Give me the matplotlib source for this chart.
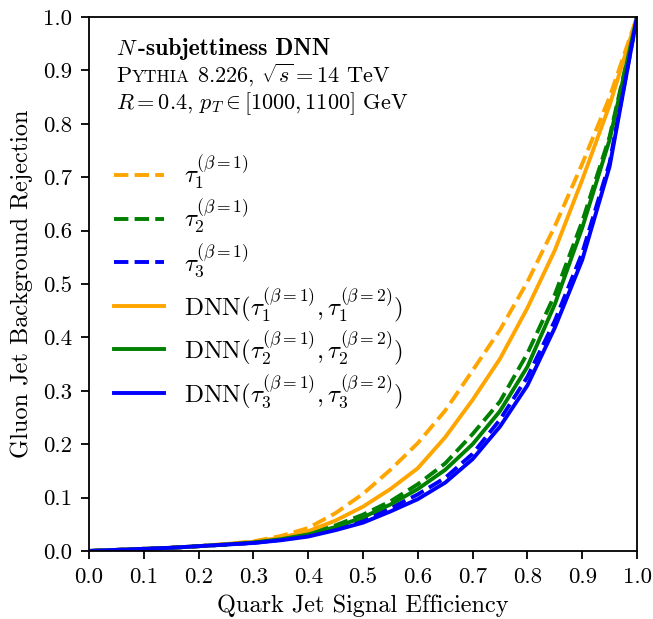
import matplotlib
matplotlib.use("Agg")
import matplotlib.pyplot as plt
from matplotlib.offsetbox import TextArea, HPacker, VPacker, AnchoredOffsetbox

plt.rcParams['font.family'] = 'serif'
plt.rcParams['font.serif'] = ['cmr10', 'DejaVu Serif']
plt.rcParams['mathtext.fontset'] = 'cm'
plt.rcParams['axes.formatter.use_mathtext'] = True
plt.rcParams['axes.unicode_minus'] = False

# signal efficiency grid
eff = [0, 0.05, 0.1, 0.15, 0.2, 0.25, 0.3, 0.35, 0.4, 0.45, 0.5, 0.55,
       0.6, 0.65, 0.7, 0.75, 0.8, 0.85, 0.9, 0.95, 1.0]

# background rejection for each curve
tau1 = [0, 0.002, 0.004, 0.006, 0.009, 0.013, 0.018, 0.028, 0.043, 0.071, 0.107, 0.152,
        0.202, 0.263, 0.338, 0.414, 0.504, 0.608, 0.725, 0.850, 1.0]
tau2 = [0, 0.002, 0.004, 0.006, 0.009, 0.012, 0.016, 0.023, 0.032, 0.048, 0.068, 0.093,
        0.125, 0.164, 0.219, 0.280, 0.370, 0.480, 0.617, 0.776, 1.0]
tau3 = [0, 0.002, 0.004, 0.006, 0.009, 0.012, 0.015, 0.021, 0.029, 0.042, 0.058, 0.080,
        0.106, 0.137, 0.182, 0.246, 0.326, 0.431, 0.558, 0.727, 1.0]
dnn1 = [0, 0.002, 0.004, 0.006, 0.009, 0.013, 0.017, 0.025, 0.037, 0.057, 0.083, 0.116,
        0.155, 0.213, 0.283, 0.360, 0.455, 0.563, 0.695, 0.835, 1.0]
dnn2 = [0, 0.002, 0.004, 0.006, 0.009, 0.012, 0.016, 0.022, 0.031, 0.045, 0.063, 0.087,
        0.116, 0.152, 0.200, 0.262, 0.345, 0.462, 0.605, 0.770, 1.0]
dnn3 = [0, 0.002, 0.004, 0.006, 0.009, 0.012, 0.015, 0.020, 0.027, 0.039, 0.053, 0.074,
        0.097, 0.128, 0.172, 0.233, 0.310, 0.418, 0.545, 0.720, 1.0]

ticks = [0.0, 0.1, 0.2, 0.3, 0.4, 0.5, 0.6, 0.7, 0.8, 0.9, 1.0]
tick_labels = ['0.0', '0.1', '0.2', '0.3', '0.4', '0.5', '0.6', '0.7', '0.8', '0.9', '1.0']

fig = plt.figure(figsize=(6.53, 6.19), dpi=100)
ax = fig.add_axes([0.1363, 0.1099, 0.8392, 0.8626])

lw = 2.8
ax.plot(eff, tau1, color='orange', ls='--', lw=lw, label=r'$\tau_1^{(\beta=1)}$')
ax.plot(eff, tau2, color='green', ls='--', lw=lw, label=r'$\tau_2^{(\beta=1)}$')
ax.plot(eff, tau3, color='blue', ls='--', lw=lw, label=r'$\tau_3^{(\beta=1)}$')
ax.plot(eff, dnn1, color='orange', ls='-', lw=lw,
        label=r'$\mathrm{DNN}(\tau_1^{(\beta=1)},\tau_1^{(\beta=2)})$')
ax.plot(eff, dnn2, color='green', ls='-', lw=lw,
        label=r'$\mathrm{DNN}(\tau_2^{(\beta=1)},\tau_2^{(\beta=2)})$')
ax.plot(eff, dnn3, color='blue', ls='-', lw=lw,
        label=r'$\mathrm{DNN}(\tau_3^{(\beta=1)},\tau_3^{(\beta=2)})$')

ax.set_xlim(0, 1)
ax.set_ylim(0, 1)
ax.set_xticks(ticks)
ax.set_xticklabels(tick_labels)
ax.set_yticks(ticks)
ax.set_yticklabels(tick_labels)
ax.tick_params(direction='out', length=6, width=1.3, labelsize=16.5, pad=6)
for s in ax.spines.values():
    s.set_linewidth(1.3)

ax.set_xlabel('Quark Jet Signal Efficiency', fontsize=17.5, labelpad=5)
ax.set_ylabel('Gluon Jet Background Rejection', fontsize=17.5, labelpad=7)

leg = ax.legend(loc='upper left', bbox_to_anchor=(0.0, 0.79), frameon=False,
                fontsize=18, handlelength=2.0, labelspacing=0.23, borderaxespad=0.6)

# annotation block in the upper left corner
fs = 16
row1 = HPacker(children=[TextArea(r'$N$', textprops=dict(fontsize=fs)),
                         TextArea('-subjettiness DNN',
                                  textprops=dict(fontsize=fs + 1, family='cmb10'))],
               align='baseline', pad=0, sep=0)
row2 = HPacker(children=[TextArea('P', textprops=dict(fontsize=fs)),
                         TextArea('YTHIA', textprops=dict(fontsize=fs * 0.78)),
                         TextArea(r' 8.226, $\sqrt{s} = 14$ TeV', textprops=dict(fontsize=fs))],
               align='baseline', pad=0, sep=0)
row3 = TextArea(r'$R = 0.4$, $p_T \in [1000, 1100]$ GeV', textprops=dict(fontsize=fs))
block = VPacker(children=[row1, row2, row3], align='left', pad=0, sep=1)
box = AnchoredOffsetbox(loc='upper left', child=block, frameon=False,
                        bbox_to_anchor=(0.05, 0.96), bbox_transform=ax.transAxes,
                        borderpad=0, pad=0)
ax.add_artist(box)

fig.savefig('out.png', dpi=100)
